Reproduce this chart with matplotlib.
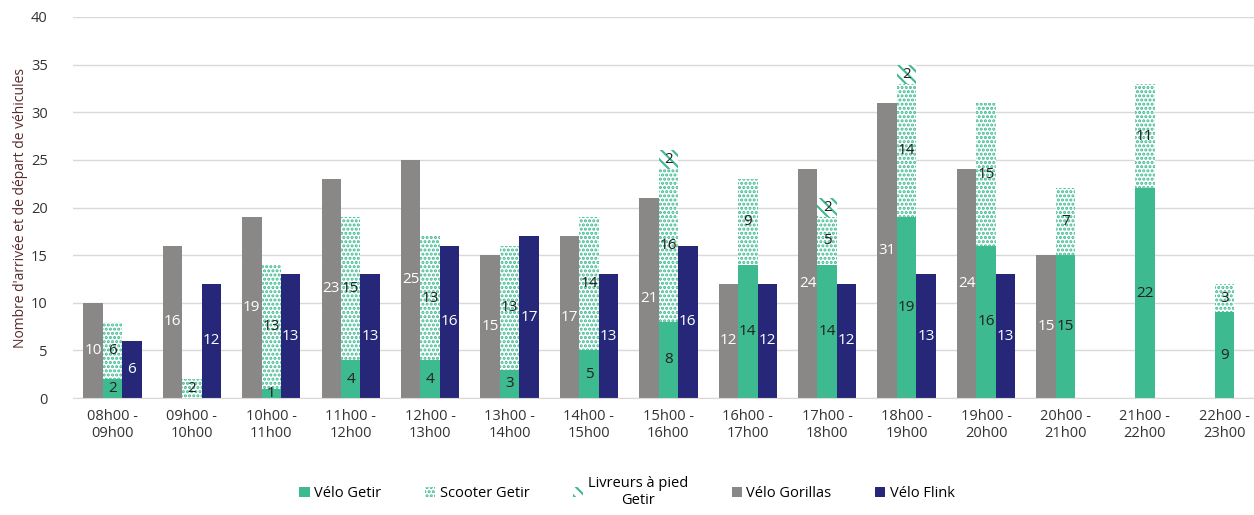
import numpy as np
import matplotlib.pyplot as plt
from matplotlib.patches import Patch

plt.rcParams['font.family'] = ['Open Sans', 'DejaVu Sans']
plt.rcParams['hatch.linewidth'] = 1.5

creneaux = ['08h00 -\n09h00', '09h00 -\n10h00', '10h00 -\n11h00', '11h00 -\n12h00',
            '12h00 -\n13h00', '13h00 -\n14h00', '14h00 -\n15h00', '15h00 -\n16h00',
            '16h00 -\n17h00', '17h00 -\n18h00', '18h00 -\n19h00', '19h00 -\n20h00',
            '20h00 -\n21h00', '21h00 -\n22h00', '22h00 -\n23h00']

velo_getir = [2, 0, 1, 4, 4, 3, 5, 8, 14, 14, 19, 16, 15, 22, 9]
scooter_getir = [6, 2, 13, 15, 13, 13, 14, 16, 9, 5, 14, 15, 7, 11, 3]
pied_getir = [0, 0, 0, 0, 0, 0, 0, 2, 0, 2, 2, 0, 0, 0, 0]
velo_gorillas = [10, 16, 19, 23, 25, 15, 17, 21, 12, 24, 31, 24, 15, 0, 0]
velo_flink = [6, 12, 13, 13, 16, 17, 13, 16, 12, 12, 13, 13, 0, 0, 0]

c_getir = '#3dba8f'
c_gorillas = '#8a8787'
c_flink = '#27277a'

x = np.arange(len(creneaux))
w = 0.245

fig = plt.figure(figsize=(12.54, 5.15), dpi=100)
ax = fig.add_axes([0.058, 0.227, 0.95, 0.740])

b_gor = ax.bar(x - w, velo_gorillas, w, color=c_gorillas)
b_vg = ax.bar(x, velo_getir, w, color=c_getir)
b_sc = ax.bar(x, scooter_getir, w, bottom=velo_getir, color='white',
              edgecolor=c_getir, hatch='....', linewidth=0)
bottom2 = np.array(velo_getir) + np.array(scooter_getir)
b_pd = ax.bar(x, pied_getir, w, bottom=bottom2, color='white',
              edgecolor=c_getir, hatch='\\\\\\', linewidth=0)
b_fl = ax.bar(x + w, velo_flink, w, color=c_flink)

def etiquettes(bars, vals, color):
    for b, v in zip(bars, vals):
        if v == 0:
            continue
        ax.text(b.get_x() + b.get_width() / 2, b.get_y() + b.get_height() / 2, str(v),
                ha='center', va='center', fontsize=11, color=color)

etiquettes(b_gor, velo_gorillas, 'white')
etiquettes(b_vg, velo_getir, '#222222')
etiquettes(b_sc, scooter_getir, '#222222')
etiquettes(b_pd, pied_getir, '#222222')
etiquettes(b_fl, velo_flink, 'white')

ax.set_xlim(-0.5, len(creneaux) - 0.5)
ax.set_ylim(0, 40)
ax.set_yticks(range(0, 41, 5))
ax.set_xticks(x)
ax.set_xticklabels(creneaux, fontsize=10.5, color='#333333')
ax.tick_params(axis='y', labelsize=10.5, colors='#333333', length=0, pad=18)
ax.tick_params(axis='x', length=0, pad=8)
ax.yaxis.grid(True, color='#d9d9d9', linewidth=1)
ax.set_axisbelow(True)
for s in ['top', 'right', 'left']:
    ax.spines[s].set_visible(False)
ax.spines['bottom'].set_color('#d9d9d9')
ax.set_ylabel("Nombre d'arrivée et de départ de véhicules", fontsize=10, color='#5a2a2a', labelpad=2)

handles = [Patch(facecolor=c_getir),
           Patch(facecolor='white', edgecolor=c_getir, hatch='....', linewidth=0),
           Patch(facecolor='white', edgecolor=c_getir, hatch='\\\\\\', linewidth=0),
           Patch(facecolor=c_gorillas),
           Patch(facecolor=c_flink)]
labels = ['Vélo Getir', 'Scooter Getir', 'Livreurs à pied\nGetir', 'Vélo Gorillas', 'Vélo Flink']
leg = fig.legend(handles, labels, loc='center', bbox_to_anchor=(0.5, 0.045), ncol=5, frameon=False,
                 fontsize=10.5, handlelength=0.7, handleheight=0.7, columnspacing=3.0,
                 handletextpad=0.3)
for t in leg.get_texts():
    t.set_multialignment('center')

fig.savefig('out.png', dpi=100)
